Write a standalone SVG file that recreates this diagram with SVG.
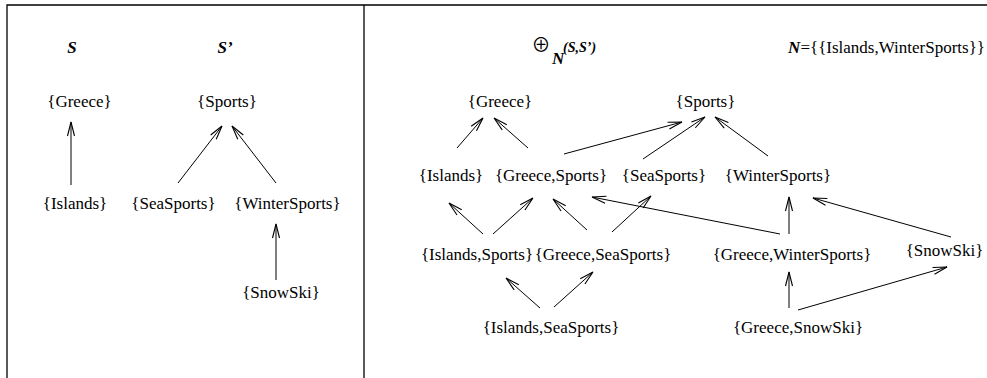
<svg xmlns="http://www.w3.org/2000/svg" width="987" height="378" viewBox="0 0 987 378">
<defs>
<style>
text{font-family:"Liberation Serif","Times New Roman",serif;font-size:17px;fill:#000}
.n{text-anchor:middle}
.bi{font-weight:bold;font-style:italic}
.frame{stroke:#000;stroke-width:1.3;fill:none}
.c line{stroke:#000;stroke-width:1;marker-end:url(#ah)}
</style>
<marker id="ah" viewBox="-15 -5 16 10" refX="0" refY="0" markerWidth="16" markerHeight="10" markerUnits="userSpaceOnUse" orient="auto">
<path d="M-14,-3.5 L0,0 L-14,3.5" fill="none" stroke="#000" stroke-width="1.1"/>
</marker>
</defs>
<rect width="987" height="378" fill="#fff"/>
<g id="frame">
<path class="frame" d="M7,378 V5 H987"/>
<path class="frame" d="M364,5 V378"/>
</g>
<g id="titles">
<text class="n bi" x="72" y="53">S</text>
<text class="n bi" x="225" y="53">S’</text>
<text x="541" y="52" style="font-family:'Noto Sans CJK JP','DejaVu Sans',sans-serif;font-weight:400;font-size:19px;text-anchor:middle">⊕</text>
<text class="bi" x="552" y="64">N</text>
<text class="bi" x="563" y="52" style="font-size:14px">(S,S’)</text>
<text x="985" y="53" style="text-anchor:end"><tspan class="bi">N</tspan>={{Islands,WinterSports}}</text>
</g>
<g id="L-Greece"><text class="n" x="79.5" y="107">{Greece}</text></g>
<g id="L-Sports"><text class="n" x="227" y="107">{Sports}</text></g>
<g id="L-Islands"><text class="n" x="75" y="209">{Islands}</text></g>
<g id="L-SeaSports"><text class="n" x="173.5" y="209">{SeaSports}</text></g>
<g id="L-WinterSports"><text class="n" x="287.5" y="209">{WinterSports}</text></g>
<g id="L-SnowSki"><text class="n" x="281" y="298">{SnowSki}</text></g>
<g id="R-Greece"><text class="n" x="500" y="107">{Greece}</text></g>
<g id="R-Sports"><text class="n" x="705.5" y="107">{Sports}</text></g>
<g id="R-Islands"><text class="n" x="451" y="181">{Islands}</text></g>
<g id="R-GreeceSports"><text class="n" x="551" y="181">{Greece,Sports}</text></g>
<g id="R-SeaSports"><text class="n" x="664" y="181">{SeaSports}</text></g>
<g id="R-WinterSports"><text class="n" x="778" y="181">{WinterSports}</text></g>
<g id="R-IslandsSports"><text class="n" x="477" y="260">{Islands,Sports}</text></g>
<g id="R-GreeceSeaSports"><text class="n" x="603" y="260">{Greece,SeaSports}</text></g>
<g id="R-GreeceWinterSports"><text class="n" x="792" y="260">{Greece,WinterSports}</text></g>
<g id="R-SnowSki"><text class="n" x="944.5" y="256">{SnowSki}</text></g>
<g id="R-IslandsSeaSports"><text class="n" x="551" y="333">{Islands,SeaSports}</text></g>
<g id="R-GreeceSnowSki"><text class="n" x="798" y="333">{Greece,SnowSki}</text></g>
<g id="connectors" class="c">
<line x1="71" y1="185" x2="71" y2="122"/>
<line x1="178" y1="183" x2="222" y2="126"/>
<line x1="276" y1="183" x2="232" y2="126"/>
<line x1="276" y1="280" x2="276" y2="224"/>
<line x1="457" y1="148" x2="483" y2="118"/>
<line x1="528" y1="148" x2="494" y2="118"/>
<line x1="564" y1="154" x2="682" y2="122"/>
<line x1="643" y1="159" x2="705" y2="117"/>
<line x1="768" y1="156" x2="715" y2="117"/>
<line x1="483" y1="234" x2="449" y2="203"/>
<line x1="493" y1="234" x2="533" y2="198"/>
<line x1="587" y1="230" x2="553" y2="199"/>
<line x1="612" y1="232" x2="651" y2="196"/>
<line x1="780" y1="234" x2="592" y2="197"/>
<line x1="789" y1="234" x2="789" y2="197"/>
<line x1="951" y1="237" x2="813" y2="198"/>
<line x1="540" y1="308" x2="506" y2="278"/>
<line x1="554" y1="307" x2="593" y2="272"/>
<line x1="789" y1="308" x2="789" y2="272"/>
<line x1="798" y1="310" x2="947" y2="267"/>
</g>
</svg>
